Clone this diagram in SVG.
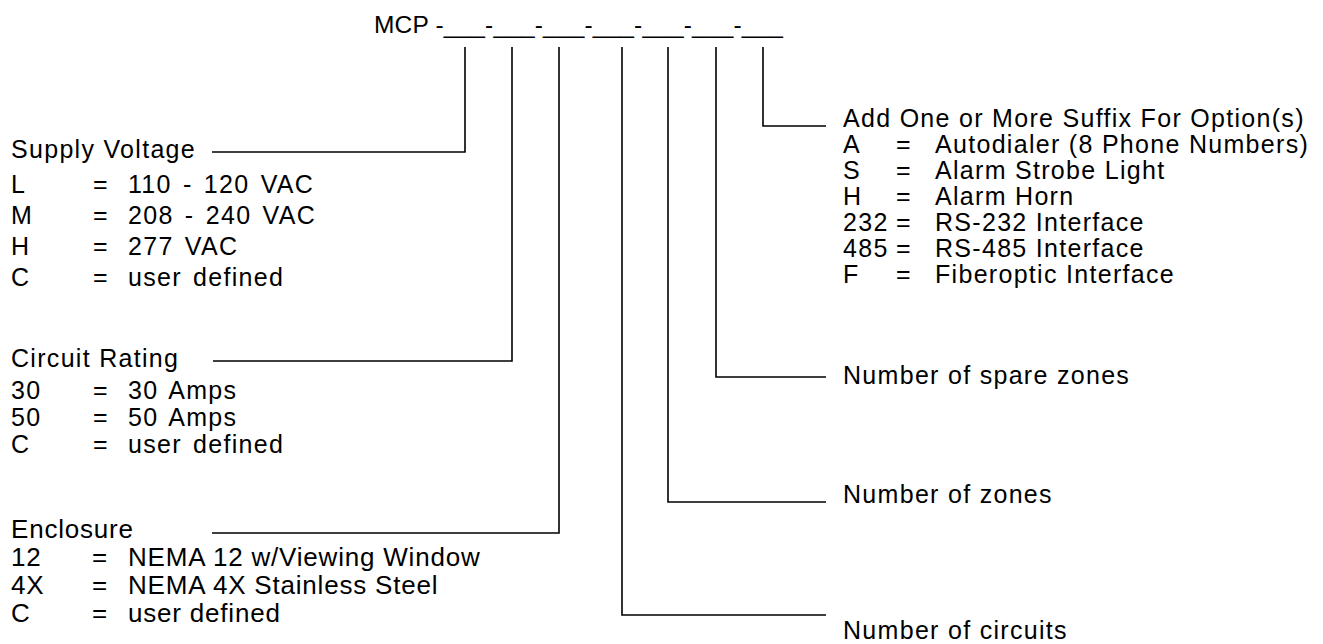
<svg xmlns="http://www.w3.org/2000/svg" width="1323" height="644" viewBox="0 0 1323 644">
<style>
  text { font-family: "Liberation Sans", Arial, sans-serif; fill: #000; }
  .t { font-size: 25px; letter-spacing: 1.3px; }
  .v { font-size: 25px; letter-spacing: 1.3px; word-spacing: 3px; }
  .e { font-size: 26px; letter-spacing: 0.8px; }
  .ttl { font-size: 24.5px; }
  .c { fill: none; stroke: #000; stroke-width: 1.6; }
</style>
<rect width="1323" height="644" fill="#fff"/>
<g id="title">
  <text class="ttl" x="374" y="33" textLength="409" lengthAdjust="spacing">MCP -___-___-___-___-___-___-___</text>
</g>
<g id="connectors">
  <polyline class="c" points="465,47 465,152 212,152"/>
  <polyline class="c" points="512,47 512,361 213,361"/>
  <polyline class="c" points="559,47 559,533 212,533"/>
  <polyline class="c" points="622,47 622,615 826,615"/>
  <polyline class="c" points="668,47 668,502 826,502"/>
  <polyline class="c" points="716,47 716,377 826,377"/>
  <polyline class="c" points="763,47 763,126 826,126"/>
</g>
<g id="supply-voltage">
  <text class="t" x="11" y="158">Supply Voltage</text>
  <text class="t" x="11" y="193">L</text><text class="t" x="93" y="193">=</text><text class="v" x="128" y="193">110 - 120 VAC</text>
  <text class="t" x="11" y="224">M</text><text class="t" x="93" y="224">=</text><text class="v" x="128" y="224">208 - 240 VAC</text>
  <text class="t" x="11" y="255">H</text><text class="t" x="93" y="255">=</text><text class="v" x="128" y="255">277 VAC</text>
  <text class="t" x="11" y="286">C</text><text class="t" x="93" y="286">=</text><text class="v" x="128" y="286">user defined</text>
</g>
<g id="circuit-rating">
  <text class="t" x="11" y="367">Circuit Rating</text>
  <text class="t" x="11" y="399">30</text><text class="t" x="93" y="399">=</text><text class="v" x="128" y="399">30 Amps</text>
  <text class="t" x="11" y="426">50</text><text class="t" x="93" y="426">=</text><text class="v" x="128" y="426">50 Amps</text>
  <text class="t" x="11" y="453">C</text><text class="t" x="93" y="453">=</text><text class="v" x="128" y="453">user defined</text>
</g>
<g id="enclosure">
  <text class="e" x="11" y="538">Enclosure</text>
  <text class="e" x="11" y="566">12</text><text class="e" x="92" y="566">=</text><text class="e" x="128" y="566">NEMA 12 w/Viewing Window</text>
  <text class="e" x="11" y="594">4X</text><text class="e" x="92" y="594">=</text><text class="e" x="128" y="594">NEMA 4X Stainless Steel</text>
  <text class="e" x="11" y="622">C</text><text class="e" x="92" y="622">=</text><text class="e" x="128" y="622">user defined</text>
</g>
<g id="options">
  <text class="t" x="843" y="127">Add One or More Suffix For Option(s)</text>
  <text class="t" x="843" y="153">A</text><text class="t" x="896" y="153">=</text><text class="t" x="935" y="153">Autodialer (8 Phone Numbers)</text>
  <text class="t" x="843" y="179">S</text><text class="t" x="896" y="179">=</text><text class="t" x="935" y="179">Alarm Strobe Light</text>
  <text class="t" x="843" y="205">H</text><text class="t" x="896" y="205">=</text><text class="t" x="935" y="205">Alarm Horn</text>
  <text class="t" x="843" y="231">232</text><text class="t" x="896" y="231">=</text><text class="t" x="935" y="231">RS-232 Interface</text>
  <text class="t" x="843" y="257">485</text><text class="t" x="896" y="257">=</text><text class="t" x="935" y="257">RS-485 Interface</text>
  <text class="t" x="843" y="283">F</text><text class="t" x="896" y="283">=</text><text class="t" x="935" y="283">Fiberoptic Interface</text>
</g>
<g id="spare-zones">
  <text class="t" x="843" y="384">Number of spare zones</text>
</g>
<g id="zones">
  <text class="t" x="843" y="503">Number of zones</text>
</g>
<g id="circuits">
  <text class="t" x="843" y="639">Number of circuits</text>
</g>
</svg>
